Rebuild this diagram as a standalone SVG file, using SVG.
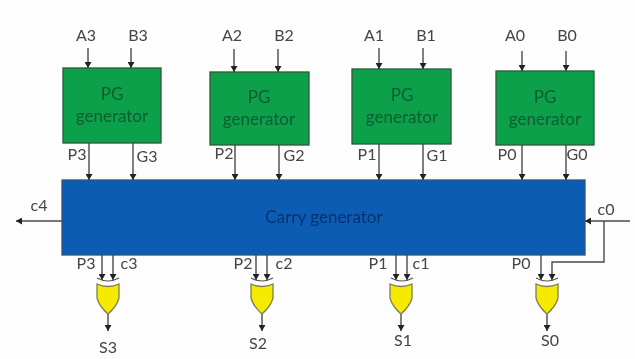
<svg xmlns="http://www.w3.org/2000/svg" width="635" height="359" viewBox="0 0 635 359">
<style>
text{font-family:Lato,"Liberation Sans",sans-serif;font-size:16px;fill:#454545;text-anchor:middle}
.pg{fill:#0fa04c;stroke:#2d5a3a;stroke-width:1.3}
.pgt{fill:#085c30;font-size:17px}
.c{fill:none;stroke:#4a4a4a;stroke-width:1.4}
.a{marker-end:url(#arrow)}
.xor{fill:#f5ea00;stroke:#7d7d55;stroke-width:1.3}
.arc{fill:none;stroke:#555;stroke-width:1.2}
</style>
<defs>
<marker id="arrow" markerUnits="userSpaceOnUse" markerWidth="7" markerHeight="7" refX="6" refY="3.5" orient="auto">
<path d="M0,0 L6,3.5 L0,7 Z" fill="#222"/>
</marker>
<filter id="soft" x="0" y="0" width="100%" height="100%"><feGaussianBlur stdDeviation="0.4"/></filter>
</defs>
<rect width="635" height="359" fill="#fdfdfd"/>
<g filter="url(#soft)">
<g id="pg3"><rect class="pg" x="63" y="68" width="98" height="75"/><text class="pgt" x="112" y="100">PG</text><text class="pgt" x="112" y="122">generator</text></g>
<g id="pg2"><rect class="pg" x="210" y="72" width="99" height="73"/><text class="pgt" x="259" y="103">PG</text><text class="pgt" x="259" y="125">generator</text></g>
<g id="pg1"><rect class="pg" x="352" y="69" width="99" height="75"/><text class="pgt" x="402" y="101">PG</text><text class="pgt" x="402" y="123">generator</text></g>
<g id="pg0"><rect class="pg" x="496" y="71" width="98" height="74"/><text class="pgt" x="545" y="103">PG</text><text class="pgt" x="545" y="125">generator</text></g>
<g id="carry"><rect x="62" y="180" width="523" height="75" fill="#0a5cb4" stroke="#2f5577" stroke-width="1.3"/><text x="324" y="223" style="fill:#06336e;font-size:17px">Carry generator</text></g>
<g id="connectors">
<path class="c a" d="M88,48V68"/><path class="c a" d="M131,48V68"/>
<path class="c a" d="M234,49V72"/><path class="c a" d="M278,49V72"/>
<path class="c a" d="M379,48V69"/><path class="c a" d="M423,48V69"/>
<path class="c a" d="M522,51V71"/><path class="c a" d="M566,51V71"/>
<path class="c a" d="M89,143V180"/><path class="c a" d="M133,143V180"/>
<path class="c a" d="M235,145V180"/><path class="c a" d="M279,145V180"/>
<path class="c a" d="M379,144V180"/><path class="c a" d="M423,144V180"/>
<path class="c a" d="M522,145V180"/><path class="c a" d="M566,145V180"/>
<path class="c a" d="M62,221H16"/>
<path class="c a" d="M630,221H585"/>
<path class="c a" d="M604,221V262H552V280"/>
<path class="c a" d="M102,255V280"/><path class="c a" d="M113,255V280"/>
<path class="c a" d="M256,255V280"/><path class="c a" d="M267,255V280"/>
<path class="c a" d="M396,255V280"/><path class="c a" d="M407,255V280"/>
<path class="c a" d="M541,255V280"/>
<path class="c a" d="M108,314V331"/><path class="c a" d="M262,313V331"/>
<path class="c a" d="M401,313V331"/><path class="c a" d="M547,313V331"/>
</g>
<g id="xor3"><path class="arc" d="M97,278Q108,284 119,278"/><path class="xor" d="M97,284Q108,289 119,284V298Q117,306 108,314Q99,306 97,298Z"/></g>
<g id="xor2"><path class="arc" d="M251,278Q262,284 273,278"/><path class="xor" d="M251,284Q262,289 273,284V298Q271,306 262,314Q253,306 251,298Z"/></g>
<g id="xor1"><path class="arc" d="M391,278Q402,284 413,278"/><path class="xor" d="M390,284Q401,289 412,284V298Q410,306 401,314Q392,306 390,298Z"/></g>
<g id="xor0"><path class="arc" d="M536,278Q547,284 558,278"/><path class="xor" d="M536,284Q547,289 558,284V298Q556,306 547,314Q538,306 536,298Z"/></g>
<g id="labels">
<text x="86" y="41">A3</text><text x="138" y="41">B3</text>
<text x="232" y="41">A2</text><text x="284" y="41">B2</text>
<text x="374" y="41">A1</text><text x="426" y="41">B1</text>
<text x="515" y="41">A0</text><text x="567" y="41">B0</text>
<text x="77" y="160">P3</text><text x="147" y="162">G3</text>
<text x="224" y="159">P2</text><text x="294" y="161">G2</text>
<text x="367" y="160">P1</text><text x="437" y="161">G1</text>
<text x="507" y="160">P0</text><text x="577" y="160">G0</text>
<text x="39" y="211">c4</text><text x="606" y="215">c0</text>
<text x="86" y="269">P3</text><text x="129" y="269">c3</text>
<text x="243" y="269">P2</text><text x="284" y="269">c2</text>
<text x="378" y="269">P1</text><text x="421" y="269">c1</text>
<text x="521" y="269">P0</text>
<text x="108" y="353">S3</text><text x="258" y="349">S2</text>
<text x="403" y="346">S1</text><text x="550" y="346">S0</text>
</g>
</g>
</svg>
